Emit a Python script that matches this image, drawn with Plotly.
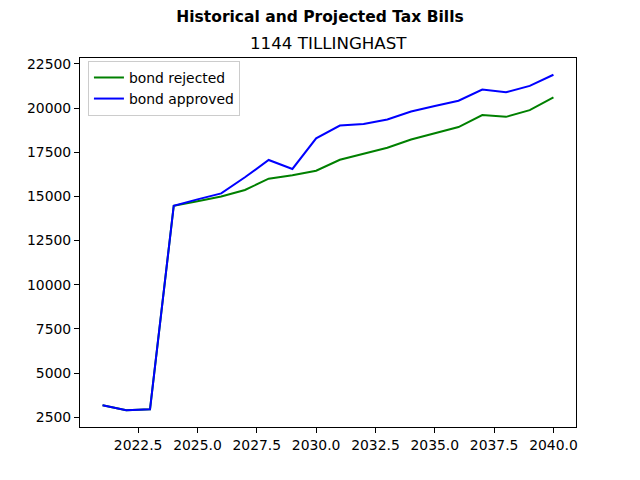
import plotly.graph_objects as go

years = list(range(2021, 2041))
bond_rejected = [3180, 2900, 2950, 14470, 14720, 14990, 15360, 16000, 16190, 16450,
                 17070, 17430, 17750, 18220, 18580, 18920, 19600, 19500, 19880, 20600]
bond_approved = [3180, 2900, 2950, 14470, 14830, 15170, 16080, 17060, 16550, 18280,
                 19010, 19090, 19350, 19800, 20110, 20410, 21040, 20890, 21250, 21880]

title = "Historical and Projected Tax Bills"
subtitle = "1144 TILLINGHAST"

allv = bond_rejected + bond_approved
ymin, ymax = min(allv), max(allv)
yspan = ymax - ymin
xspan = years[-1] - years[0]

fig = go.Figure()
fig.add_trace(go.Scatter(x=years, y=bond_rejected, mode="lines", name="bond rejected",
                         line=dict(color="green", width=2)))
fig.add_trace(go.Scatter(x=years, y=bond_approved, mode="lines", name="bond approved",
                         line=dict(color="blue", width=2)))

font = "DejaVu Sans"
axis_common = dict(showgrid=False, zeroline=False, showline=True, linecolor="black",
                   linewidth=1, mirror=True, ticks="outside", ticklen=5, tickwidth=1,
                   tickcolor="black", tickfont=dict(family=font, size=13.9, color="black"))

fig.update_layout(
    width=640, height=480,
    margin=dict(l=80, r=64, t=58, b=53),
    paper_bgcolor="white", plot_bgcolor="white",
    font=dict(family=font, color="black"),
    title=dict(text="<b>" + title + "</b>", x=0.5, xref="container",
               y=1 - 17 / 480, yref="container", yanchor="middle",
               font=dict(family=font, size=15.5, color="black")),
    xaxis=dict(range=[years[0] - 0.05 * xspan, years[-1] + 0.05 * xspan],
               tick0=2022.5, dtick=2.5, tickformat=".1f", **axis_common),
    yaxis=dict(range=[ymin - 0.05 * yspan, ymax + 0.05 * yspan],
               tick0=2500, dtick=2500, tickformat="d", **axis_common),
    legend=dict(x=0.016, y=0.992, xanchor="left", yanchor="top",
                bgcolor="rgba(255,255,255,0.8)", bordercolor="#cccccc", borderwidth=1,
                font=dict(family=font, size=13.9, color="black"),
                tracegroupgap=0),
    showlegend=True,
    annotations=[
        dict(text=subtitle, x=0.5, y=1.0, xref="paper", yref="paper",
             xanchor="center", yanchor="bottom", yshift=3, showarrow=False,
             font=dict(family=font, size=16.7, color="black")),
    ],
)

fig.write_html("out.html")
